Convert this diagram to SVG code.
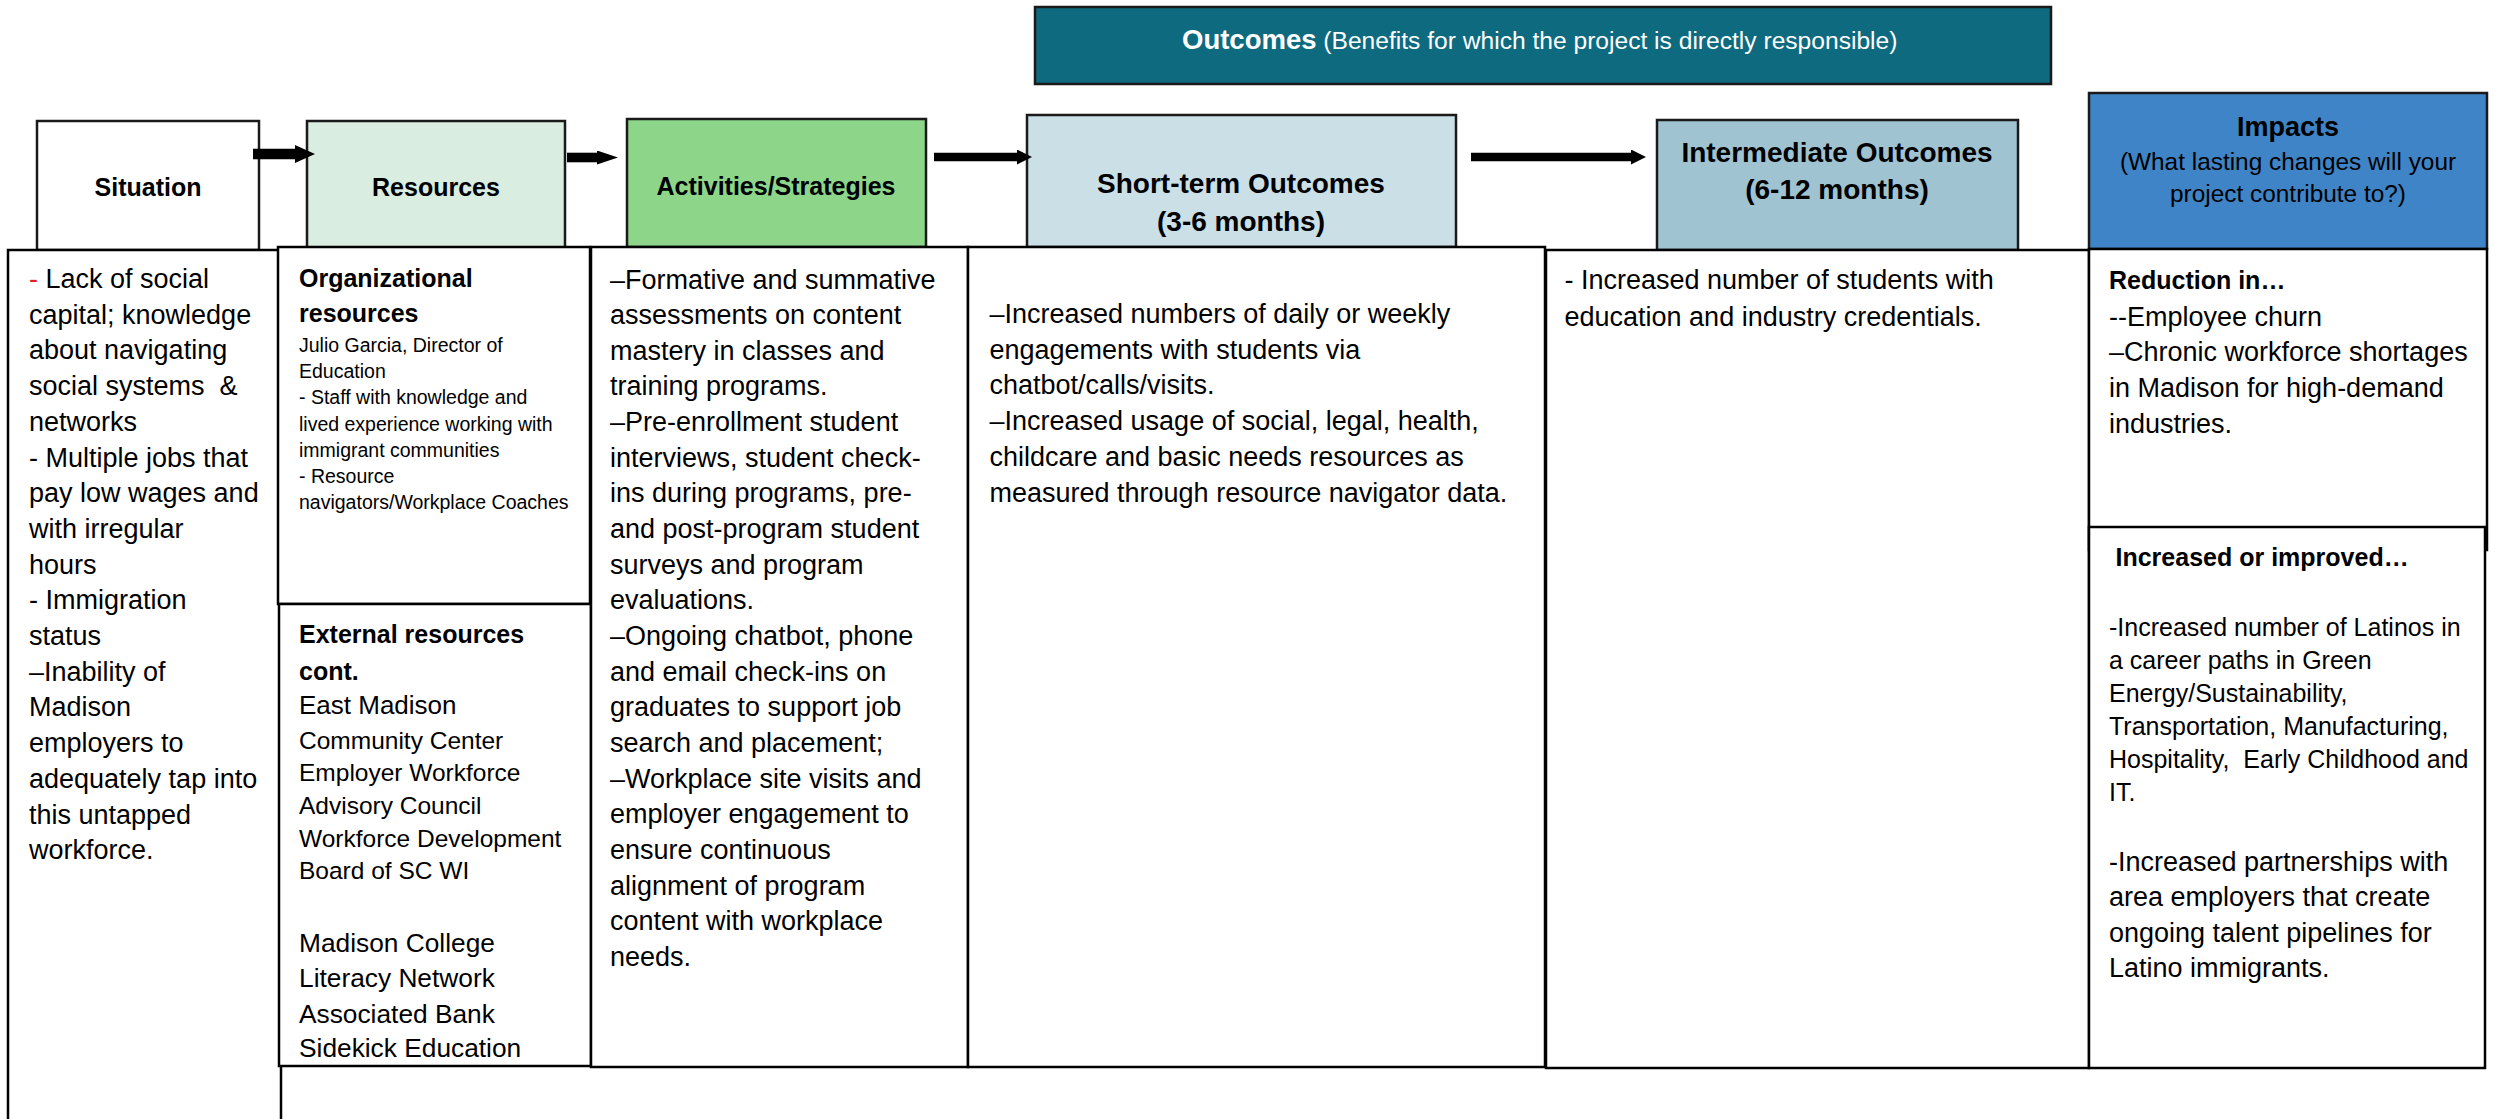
<svg xmlns="http://www.w3.org/2000/svg" width="2498" height="1119" viewBox="0 0 2498 1119">
<style>
text{font-family:"Liberation Sans",Arial,sans-serif;fill:#000}
.hd{stroke:#1a1a1a;stroke-width:2.5}
.bx{fill:#fff;stroke:#000;stroke-width:2.5}
.lbl{font-weight:bold;font-size:25px;text-anchor:middle}
.lbl28{font-weight:bold;font-size:28px;text-anchor:middle}
.t{font-size:27px}
.s{font-size:19.5px}
.b{font-weight:bold;font-size:25px}
.conn{stroke:#000;fill:none}
</style>
<defs>
<marker id="headA" markerUnits="userSpaceOnUse" markerWidth="20" markerHeight="18" refX="0" refY="9" orient="auto" viewBox="0 0 20 18"><path d="M0,0 L20,9 L0,18 z" fill="#000"/></marker>
<marker id="headB" markerUnits="userSpaceOnUse" markerWidth="21" markerHeight="14" refX="0" refY="7" orient="auto" viewBox="0 0 21 14"><path d="M0,0 L21,7 L0,14 z" fill="#000"/></marker>
<marker id="headC" markerUnits="userSpaceOnUse" markerWidth="15" markerHeight="15" refX="0" refY="7.5" orient="auto" viewBox="0 0 15 15"><path d="M0,0 L15,7.5 L0,15 z" fill="#000"/></marker>
</defs>
<rect width="2498" height="1119" fill="#fff"/>

<g id="outcomes-banner">
<rect x="1035" y="7" width="1016" height="77" fill="#0e6a7f" stroke="#1a1a1a" stroke-width="2.5"/>
<text x="1182" y="49" style="fill:#fff"><tspan font-weight="bold" font-size="27.5px" style="fill:#fff">Outcomes</tspan><tspan font-size="24.6px" style="fill:#fff"> (Benefits for which the project is directly responsible)</tspan></text>
</g>

<g id="situation">
<rect class="hd" x="37" y="121" width="222" height="129" fill="#fff"/>
<text class="lbl" x="148" y="196">Situation</text>
<rect class="bx" x="8" y="250" width="273" height="900"/>
<g class="t">
<text x="29" y="288"><tspan style="fill:#e02020">-</tspan> Lack of social</text>
<text x="29" y="323.7">capital; knowledge</text>
<text x="29" y="359.4">about navigating</text>
<text x="29" y="395.1">social systems &#160;&amp;</text>
<text x="29" y="430.8">networks</text>
<text x="29" y="466.5">- Multiple jobs that</text>
<text x="29" y="502.2">pay low wages and</text>
<text x="29" y="537.9">with irregular</text>
<text x="29" y="573.6">hours</text>
<text x="29" y="609.3">- Immigration</text>
<text x="29" y="645">status</text>
<text x="29" y="680.7">–Inability of</text>
<text x="29" y="716.4">Madison</text>
<text x="29" y="752.1">employers to</text>
<text x="29" y="787.8">adequately tap into</text>
<text x="29" y="823.5">this untapped</text>
<text x="29" y="859.2">workforce.</text>
</g>
</g>

<g id="resources">
<rect class="hd" x="307" y="121" width="258" height="127" fill="#d9ede0"/>
<text class="lbl" x="436" y="196">Resources</text>
<rect class="bx" x="278" y="247" width="312" height="357"/>
<text class="b" x="299" y="286.5">Organizational</text>
<text class="b" x="299" y="322">resources</text>
<g class="s">
<text x="299" y="352">Julio Garcia, Director of</text>
<text x="299" y="378.2">Education</text>
<text x="299" y="404.4">- Staff with knowledge and</text>
<text x="299" y="430.6">lived experience working with</text>
<text x="299" y="456.8">immigrant communities</text>
<text x="299" y="483">- Resource</text>
<text x="299" y="509.2">navigators/Workplace Coaches</text>
</g>
</g>

<g id="external-resources">
<rect class="bx" x="279" y="604" width="312" height="462"/>
<text class="b" x="299" y="643">External resources</text>
<text class="b" x="299" y="679.6">cont.</text>
<text x="299" y="714" font-size="26px">East Madison</text>
<g font-size="24.5px">
<text x="299" y="748.5">Community Center</text>
<text x="299" y="781">Employer Workforce</text>
<text x="299" y="813.5">Advisory Council</text>
<text x="299" y="846.5">Workforce Development</text>
<text x="299" y="879">Board of SC WI</text>
</g>
<g font-size="26.3px">
<text x="299" y="951.5">Madison College</text>
<text x="299" y="987">Literacy Network</text>
<text x="299" y="1022.5">Associated Bank</text>
<text x="299" y="1056.5">Sidekick Education</text>
</g>
</g>

<g id="activities">
<rect class="hd" x="627" y="119" width="299" height="128" fill="#8dd689"/>
<text class="lbl" x="776" y="195">Activities/Strategies</text>
<rect class="bx" x="591" y="247" width="377" height="820"/>
<g class="t">
<text x="610" y="288.5">–Formative and summative</text>
<text x="610" y="324.15">assessments on content</text>
<text x="610" y="359.8">mastery in classes and</text>
<text x="610" y="395.45">training programs.</text>
<text x="610" y="431.1">–Pre-enrollment student</text>
<text x="610" y="466.75">interviews, student check-</text>
<text x="610" y="502.4">ins during programs, pre-</text>
<text x="610" y="538.05">and post-program student</text>
<text x="610" y="573.7">surveys and program</text>
<text x="610" y="609.35">evaluations.</text>
<text x="610" y="645">–Ongoing chatbot, phone</text>
<text x="610" y="680.65">and email check-ins on</text>
<text x="610" y="716.3">graduates to support job</text>
<text x="610" y="751.95">search and placement;</text>
<text x="610" y="787.6">–Workplace site visits and</text>
<text x="610" y="823.25">employer engagement to</text>
<text x="610" y="858.9">ensure continuous</text>
<text x="610" y="894.55">alignment of program</text>
<text x="610" y="930.2">content with workplace</text>
<text x="610" y="965.85">needs.</text>
</g>
</g>

<g id="short-term-outcomes">
<rect class="hd" x="1027" y="115" width="429" height="132" fill="#cbdfe6"/>
<text class="lbl28" x="1241" y="192.5">Short-term Outcomes</text>
<text class="lbl28" x="1241" y="231">(3-6 months)</text>
<rect class="bx" x="968" y="247" width="577" height="820"/>
<g class="t">
<text x="989.5" y="323">–Increased numbers of daily or weekly</text>
<text x="989.5" y="358.7">engagements with students via</text>
<text x="989.5" y="394.4">chatbot/calls/visits.</text>
<text x="989.5" y="430.1">–Increased usage of social, legal, health,</text>
<text x="989.5" y="465.8">childcare and basic needs resources as</text>
<text x="989.5" y="501.5">measured through resource navigator data.</text>
</g>
</g>

<g id="intermediate-outcomes">
<rect class="hd" x="1657" y="120" width="361" height="130" fill="#a0c3d1"/>
<text class="lbl28" x="1837" y="161.5">Intermediate Outcomes</text>
<text class="lbl28" x="1837" y="199">(6-12 months)</text>
<rect class="bx" x="1546" y="250" width="543" height="818"/>
<g class="t">
<text x="1564.5" y="289">- Increased number of students with</text>
<text x="1564.5" y="325.5">education and industry credentials.</text>
</g>
</g>

<g id="impacts">
<rect class="hd" x="2089" y="93" width="398" height="156" fill="#3e84c6"/>
<text x="2288" y="135.5" font-weight="bold" font-size="27px" text-anchor="middle">Impacts</text>
<text x="2288" y="170" font-size="24.4px" text-anchor="middle">(What lasting changes will your</text>
<text x="2288" y="201.5" font-size="24.4px" text-anchor="middle">project contribute to?)</text>
</g>

<g id="impacts-reduction">
<rect class="bx" x="2089" y="249" width="398" height="301"/>
<text class="b" x="2109" y="288.5">Reduction in…</text>
<g class="t">
<text x="2109" y="325.5">--Employee churn</text>
<text x="2109" y="361">–Chronic workforce shortages</text>
<text x="2109" y="396.5">in Madison for high-demand</text>
<text x="2109" y="432.5">industries.</text>
</g>
</g>

<g id="impacts-increased">
<rect class="bx" x="2089" y="527" width="396" height="541"/>
<text class="b" x="2115.5" y="566">Increased or improved…</text>
<g font-size="25px">
<text x="2109" y="636">-Increased number of Latinos in</text>
<text x="2109" y="669">a career paths in Green</text>
<text x="2109" y="702">Energy/Sustainability,</text>
<text x="2109" y="735">Transportation, Manufacturing,</text>
<text x="2109" y="768">Hospitality, &#160;Early Childhood and</text>
<text x="2109" y="801">IT.</text>
</g>
<g class="t">
<text x="2109" y="870.5">-Increased partnerships with</text>
<text x="2109" y="906">area employers that create</text>
<text x="2109" y="941.5">ongoing talent pipelines for</text>
<text x="2109" y="977">Latino immigrants.</text>
</g>
</g>

<g id="connectors" class="conn">
<line x1="253" y1="154" x2="295" y2="154" stroke-width="10.5" marker-end="url(#headA)"/>
<line x1="567" y1="157.5" x2="597" y2="157.5" stroke-width="9.6" marker-end="url(#headB)"/>
<line x1="934" y1="157" x2="1017" y2="157" stroke-width="8.6" marker-end="url(#headC)"/>
<line x1="1471" y1="157" x2="1631" y2="157" stroke-width="8.6" marker-end="url(#headC)"/>
</g>
</svg>
